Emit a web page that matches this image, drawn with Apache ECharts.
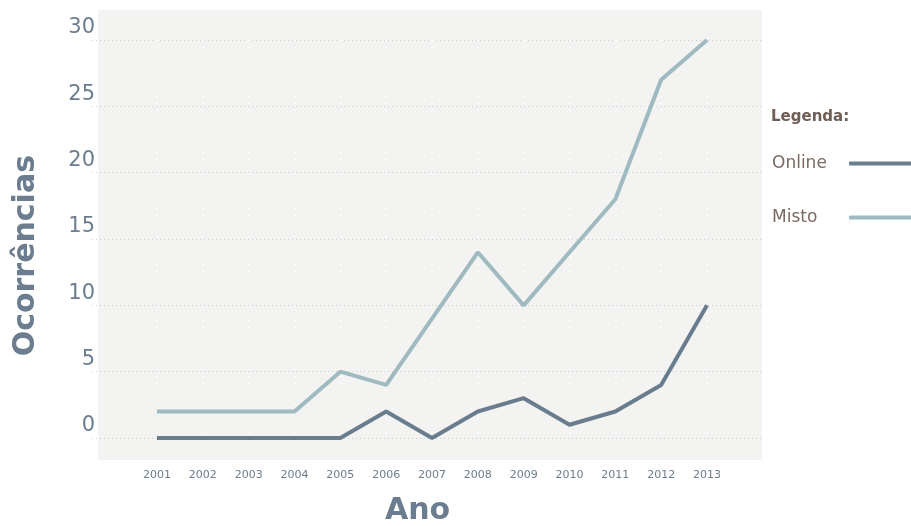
<!DOCTYPE html>
<html><head><meta charset="utf-8">
<script src="https://cdn.jsdelivr.net/npm/echarts@6/dist/echarts.min.js"></script>
<style>html,body{margin:0;padding:0;background:#fff}#c{width:911px;height:526px}</style>
</head><body><div id="c"></div>
<script>
const years = ['2001','2002','2003','2004','2005','2006','2007','2008','2009','2010','2011','2012','2013'];
const online = [0,0,0,0,0,2,0,2,3,1,2,4,10];
const misto = [2,2,2,2,5,4,9,14,10,14,18,27,30];
const yTicks = [0,5,10,15,20,25,30];

const FONT = '"DejaVu Sans", "Noto Sans", sans-serif';
const chart = echarts.init(document.getElementById('c'), null, {renderer:'canvas'});
chart.setOption({
  animation:false,
  backgroundColor:'#ffffff',
  graphic:[
    {type:'rect', z:-10, shape:{x:98,y:10,width:664,height:450}, style:{fill:'#f3f3f2'}},
    {type:'text', left:11, top:155, rotation:Math.PI/2, style:{text:'Ocorrências', font:'bold 30px '+FONT, fill:'#6b7d8e'}},
    {type:'text', left:385, top:496, style:{text:'Ano', font:'bold 30px '+FONT, fill:'#6b7d8e'}}
  ],
  title:{text:'Legenda:', left:766, top:105, textStyle:{fontFamily:FONT, fontWeight:'bold', fontSize:15, color:'#6e5e55'}},
  legend:{
    orient:'vertical', left:767, top:150, itemGap:37,
    itemWidth:80, itemHeight:4, icon:'roundRect', align:'right',
    formatter:function(n){return '{t|'+n+'}';},
    textStyle:{fontFamily:FONT, fontSize:17, color:'#7a6a62',
      rich:{t:{width:72, align:'left', fontFamily:FONT, fontSize:17, color:'#7a6a62'}}},
    data:['Online','Misto']
  },
  grid:[
    {left:92, right:149, top:40, bottom:88},
    {left:157, right:204, top:40, bottom:88}
  ],
  xAxis:[
    {gridIndex:0, type:'value', show:false, min:0, max:1},
    {gridIndex:1, type:'category', data:years, boundaryGap:false,
     axisLine:{show:false}, axisTick:{show:false},
     axisLabel:{margin:32, fontFamily:FONT, fontSize:11, color:'#6b7d8e'},
     splitLine:{show:true, lineStyle:{color:'#ffffff', type:[1,6], width:2}}}
  ],
  yAxis:[
    {gridIndex:0, type:'value', min:0, max:30, interval:5,
     axisLine:{show:false}, axisTick:{show:false},
     axisLabel:{margin:-3, fontFamily:FONT, fontSize:21, color:'#6b7d8e', verticalAlign:'bottom', lineHeight:24,
       formatter:function(v){return yTicks.indexOf(v)>=0?String(v):'';}},
     splitLine:{show:true, lineStyle:{color:'#c7cfd2', type:[1,3], width:1}}},
    {gridIndex:1, type:'value', min:0, max:30, interval:5, show:false, splitLine:{show:false}}
  ],
  series:[
    {name:'Online', type:'line', xAxisIndex:1, yAxisIndex:1, data:online, symbol:'none',
     lineStyle:{width:4, color:'#6a7d8e'}, itemStyle:{color:'#6a7d8e'}},
    {name:'Misto', type:'line', xAxisIndex:1, yAxisIndex:1, data:misto, symbol:'none',
     lineStyle:{width:4, color:'#9fbac1'}, itemStyle:{color:'#9fbac1'}}
  ]
});
</script></body></html>
